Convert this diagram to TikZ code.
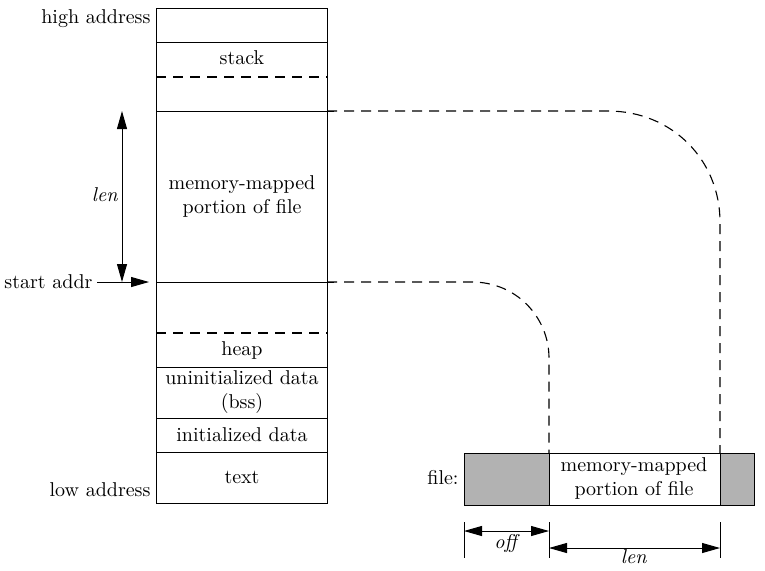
\documentclass[tikz,border=0pt]{standalone}
\usepackage{tikz}
\usetikzlibrary{arrows.meta}

\tikzset{
  seglabel/.style={align=center, inner sep=0pt},
  sidelabel/.style={anchor=east, inner sep=2pt},
  tip/.style={-{Triangle[length=9pt,width=5pt]}},
  dimline/.style={{Triangle[length=9pt,width=5pt]}-{Triangle[length=9pt,width=5pt]}},
  maplink/.style={dash pattern=on 5pt off 3.5pt, line width=0.55pt},
}

\begin{document}
\begin{tikzpicture}[x=0.5pt, y=-0.5pt, line width=0.5pt]
\useasboundingbox (0,0) rectangle (765,570);
% Address space of the process
\draw (156,8) rectangle (327,503);
\foreach \y in {42,367,418,452}
    \draw (156,\y) -- (327,\y);
\foreach \y in {111,282}
    \draw (156,\y) -- (334,\y);
\foreach \y in {77,333}
    \draw[maplink] (156,\y) -- (327,\y);
\node[sidelabel] (hiaddr) at (155,19) {high address};
\node[sidelabel] (loaddr) at (155,490) {low address};
\node[seglabel] (stack) at (242,58) {stack};
\node[seglabel] (mmap) at (242,196) {memory-mapped\\portion of file};
\node[seglabel] (heap) at (242,350) {heap};
\node[seglabel] (bss) at (242,392) {uninitialized data\\(bss)};
\node[seglabel] (idata) at (242,435) {initialized data};
\node[seglabel] (text) at (242,477) {text};
% Length of the mapping and its start
\coordinate (lentop) at (122,111);
\coordinate (lenbot) at (122,282);
\draw[dimline] (lentop) -- (lenbot);
\node (memlen) at (105,195) {\textit{len}};
\node[sidelabel] (startaddr) at (97,282) {start addr};
\coordinate (startpt) at (149,282);
\draw[tip] (startaddr.east) -- (startpt);
% The file on disk
\fill[gray!60] (464,453) rectangle (549,505);
\fill[gray!60] (720,453) rectangle (754,505);
\draw (464,453) rectangle (754,505);
\draw (549,453) -- (549,505);
\draw (720,453) -- (720,505);
\node[sidelabel] (file) at (463,478) {file:};
\node[seglabel] (fmmap) at (634,478) {memory-mapped\\portion of file};
\coordinate (fa) at (549,453);
\coordinate (fb) at (720,453);
% Mapping between memory and file
\coordinate (mtop) at (327,111);
\coordinate (mbot) at (327,282);
\draw[maplink] (mtop) -- (608,111) .. controls (672,111) and (720,160) .. (720,222) -- (fb);
\draw[maplink] (mbot) -- (472,282) .. controls (517,282) and (549,318) .. (549,358) -- (fa);
% Offset and length in the file
\foreach \x in {464,549,720}
    \draw (\x,522) -- (\x,558);
\coordinate (offa) at (464,531);
\coordinate (offb) at (549,531);
\draw[dimline] (offa) -- (offb);
\node (offlabel) at (507,543) {\textit{off}};
\coordinate (lena) at (549,548);
\coordinate (lenb) at (720,548);
\draw[dimline] (lena) -- (lenb);
\node (filelen) at (634,557) {\textit{len}};
\end{tikzpicture}
\end{document}
